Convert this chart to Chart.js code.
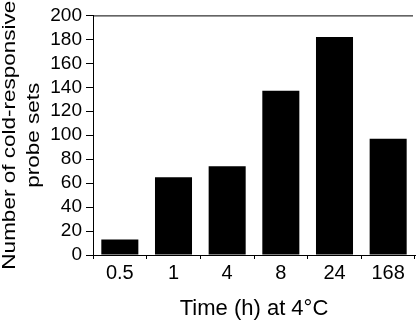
<!DOCTYPE html>
<html>
<head>
<meta charset="utf-8">
<script src="https://cdn.jsdelivr.net/npm/chart.js@4"></script>
<style>
    html, body { margin: 0; padding: 0; background: #fff; }
    #grafico { display: block; }
</style>
</head>
<body>
<canvas id="grafico" width="416" height="322"></canvas>
<script>
const tiempos = ['0.5', '1', '4', '8', '24', '168'];
const probeSets = [13, 65, 74, 137, 182, 97];
const tituloY = ['Number of cold-responsive', 'probe sets'];
const tituloX = 'Time (h) at 4°C';

const fuente = "'Liberation Sans', Arial, sans-serif";

// y title drawn by hand so it can run past the plot height like the original
const tituloYPlugin = {
    id: 'tituloY',
    afterDraw(chart) {
        const ctx = chart.ctx;
        const area = chart.chartArea;
        ctx.save();
        // top frame line
        ctx.strokeStyle = '#000';
        ctx.lineWidth = 1;
        ctx.beginPath();
        ctx.moveTo(area.left, area.top + 0.5);
        ctx.lineTo(area.right - 2, area.top + 0.5);
        ctx.stroke();

        ctx.fillStyle = '#000';
        ctx.font = '18px ' + fuente;
        ctx.textAlign = 'center';
        ctx.textBaseline = 'alphabetic';
        const centroY = (area.top + area.bottom) / 2;
        const lineas = [15, 39];
        tituloY.forEach((texto, i) => {
            ctx.save();
            ctx.translate(lineas[i], centroY);
            ctx.rotate(-Math.PI / 2);
            ctx.scale(1.25, 1);
            ctx.fillText(texto, 0, 0);
            ctx.restore();
        });
        ctx.restore();
    }
};

const ctx = document.getElementById('grafico').getContext('2d');
new Chart(ctx, {
    type: 'bar',
    data: {
        labels: tiempos,
        datasets: [{
            data: probeSets,
            backgroundColor: '#000',
            borderWidth: 0,
            barPercentage: 0.69,
            categoryPercentage: 1
        }]
    },
    options: {
        responsive: false,
        animation: false,
        layout: { padding: { top: 10, right: 1, left: 0, bottom: 0 } },
        plugins: {
            legend: { display: false },
            tooltip: { enabled: false }
        },
        scales: {
            x: {
                afterFit: scale => { scale.height = 67; },
                grid: { drawOnChartArea: false, drawTicks: true, tickLength: 4, color: '#000', offset: true },
                border: { display: true, color: '#000', width: 1 },
                ticks: { color: '#000', padding: 2, font: { family: fuente, size: 20 } },
                title: {
                    display: true,
                    text: tituloX,
                    color: '#000',
                    padding: 0,
                    font: { family: fuente, size: 22 }
                }
            },
            y: {
                min: 0,
                max: 200,
                afterFit: scale => { scale.width = 93; },
                grid: { drawOnChartArea: false, drawTicks: true, tickLength: 7, color: '#000' },
                border: { display: true, color: '#000', width: 1 },
                ticks: { stepSize: 20, autoSkip: false, color: '#000', padding: 4, font: { family: fuente, size: 19 } }
            }
        }
    },
    plugins: [tituloYPlugin]
});
</script>
</body>
</html>
